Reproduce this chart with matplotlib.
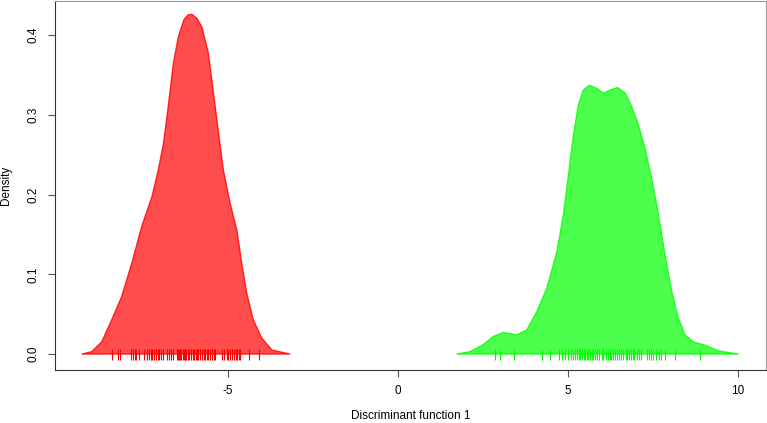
import numpy as np
import matplotlib.pyplot as plt

plt.rcParams['font.family'] = ['Liberation Sans', 'DejaVu Sans']

# density curve of group 1
red_x = [-9.30, -9.01, -8.72, -8.42, -8.13, -7.83, -7.54, -7.24, -7.05, -6.90,
         -6.76, -6.61, -6.46, -6.30, -6.18, -6.07, -5.92, -5.77, -5.58, -5.43,
         -5.28, -5.14, -4.94, -4.74, -4.60, -4.45, -4.26, -4.01, -3.71, -3.18]
red_y = [0.000, 0.003, 0.015, 0.043, 0.072, 0.114, 0.160, 0.197, 0.231, 0.264,
         0.310, 0.364, 0.398, 0.419, 0.425, 0.426, 0.421, 0.410, 0.377, 0.327,
         0.277, 0.231, 0.189, 0.155, 0.114, 0.076, 0.043, 0.020, 0.005, 0.000]

# density curve of group 2
green_x = [1.73, 2.12, 2.51, 2.80, 3.10, 3.49, 3.78, 4.08, 4.37, 4.67,
           4.86, 5.01, 5.16, 5.30, 5.45, 5.63, 5.84, 6.04, 6.24, 6.46,
           6.68, 6.87, 7.07, 7.26, 7.46, 7.66, 7.85, 8.05, 8.24, 8.44,
           8.69, 9.03, 9.42, 10.00]
green_y = [0.000, 0.003, 0.012, 0.022, 0.027, 0.024, 0.030, 0.053, 0.082, 0.128,
           0.174, 0.224, 0.275, 0.312, 0.331, 0.337, 0.333, 0.327, 0.331, 0.334,
           0.327, 0.310, 0.287, 0.258, 0.220, 0.174, 0.124, 0.078, 0.045, 0.024,
           0.015, 0.011, 0.004, 0.000]

# individual scores (rug)
red_rug = [-8.40, -8.24, -8.17, -7.86, -7.81, -7.74, -7.70, -7.62, -7.46, -7.39,
           -7.33, -7.28, -7.24, -7.19, -7.11, -7.07, -7.02, -6.96, -6.91, -6.79,
           -6.74, -6.68, -6.63, -6.51, -6.46, -6.43, -6.40, -6.37, -6.33, -6.30,
           -6.27, -6.24, -6.19, -6.15, -6.10, -6.04, -5.99, -5.94, -5.90, -5.87,
           -5.82, -5.77, -5.71, -5.67, -5.63, -5.58, -5.53, -5.48, -5.41, -5.37,
           -5.17, -5.11, -5.04, -4.99, -4.94, -4.89, -4.84, -4.77, -4.73, -4.67,
           -4.64, -4.39, -4.08]
green_rug = [2.86, 3.01, 3.41, 4.22, 4.47, 4.73, 4.82, 4.91, 4.99, 5.08,
             5.15, 5.21, 5.25, 5.32, 5.36, 5.42, 5.46, 5.50, 5.55, 5.59,
             5.64, 5.70, 5.74, 5.80, 5.86, 5.91, 5.99, 6.04, 6.11, 6.17,
             6.23, 6.27, 6.31, 6.38, 6.43, 6.50, 6.56, 6.61, 6.69, 6.74,
             6.79, 6.84, 6.90, 6.95, 7.02, 7.09, 7.15, 7.31, 7.37, 7.44,
             7.51, 7.59, 7.67, 7.72, 7.85, 8.15, 8.88]

x_ticks = [-5, 0, 5, 10]
y_ticks = [0.0, 0.1, 0.2, 0.3, 0.4]

fig = plt.figure(figsize=(7.67, 4.23), dpi=100)
ax = fig.add_axes([55 / 767, 53 / 423, 711 / 767, 369 / 423])

ax.fill(red_x, red_y, facecolor=(1, 0, 0, 0.7), edgecolor=(1, 0, 0, 0.8),
        lw=1, joinstyle='round')
ax.fill(green_x, green_y, facecolor=(0, 1, 0, 0.7), edgecolor=(0, 1, 0, 0.8),
        lw=1, joinstyle='round')

ax.vlines(red_rug, -0.007, 0.006, color='#ff0000', lw=0.8)
ax.vlines(green_rug, -0.007, 0.006, color='#00ff00', lw=0.8)

ax.set_xlim(-10.09, 10.82)
ax.set_ylim(-0.02, 0.4426)

ax.set_xticks(x_ticks)
ax.set_xticklabels([str(t) for t in x_ticks])
ax.set_yticks(y_ticks)
ax.set_yticklabels(['%.1f' % t for t in y_ticks], rotation=90, va='center')
ax.tick_params(length=5, width=0.8, color='#555555', labelsize=8.5, pad=6)

for side in ['left', 'bottom']:
    ax.spines[side].set_color('#333333')
for side in ['top', 'right']:
    ax.spines[side].set_color('#999999')

ax.set_xlabel('Discriminant function 1', fontsize=8.5, va='center')
ax.xaxis.set_label_coords(0.5, -0.1247)
ax.set_ylabel('Density', fontsize=8.5, va='center')
ax.yaxis.set_label_coords(-0.0685, 0.5)

fig.savefig('out.png', dpi=100)
